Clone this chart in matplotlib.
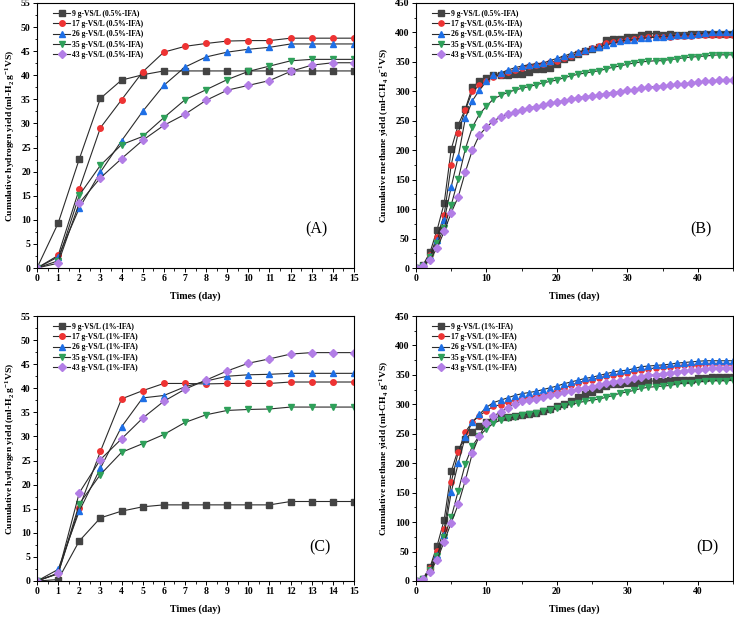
import numpy as np
import matplotlib
matplotlib.use("Agg")
import matplotlib.pyplot as plt
from matplotlib.ticker import MultipleLocator

plt.rcParams['font.family'] = ['Liberation Serif', 'DejaVu Serif']
plt.rcParams['mathtext.fontset'] = 'custom'
plt.rcParams['mathtext.rm'] = 'Liberation Serif'
plt.rcParams['mathtext.bf'] = 'Liberation Serif:bold'

LOADINGS = ["9", "17", "26", "35", "43"]
MARKERS = ["s", "o", "^", "v", "D"]
COLORS = ["#444444", "#ee3333", "#1e6fe6", "#2fa05a", "#b27ee6"]
LINE_COLOR = "#2b2b2b"

# hydrogen, days 0..15
H2_DAYS = list(range(16))
H2_05 = [
    [0, 9.3, 22.6, 35.2, 39.0, 40.1, 40.9, 40.9, 40.9, 40.9, 40.9, 40.9, 40.9, 40.9, 40.9, 40.9],
    [0, 2.6, 16.4, 29.1, 34.9, 40.7, 44.8, 46.0, 46.6, 47.1, 47.2, 47.2, 47.7, 47.7, 47.7, 47.7],
    [0, 2.3, 12.4, 19.9, 26.4, 32.5, 37.9, 41.7, 43.8, 44.8, 45.4, 45.8, 46.5, 46.5, 46.5, 46.5],
    [0, 1.5, 15.1, 21.3, 25.6, 27.3, 31.2, 34.9, 37.0, 39.1, 40.8, 41.9, 43.0, 43.3, 43.3, 43.3],
    [0, 1.0, 13.5, 18.7, 22.7, 26.5, 29.6, 31.9, 34.8, 36.9, 37.9, 38.9, 40.8, 42.1, 42.6, 42.6],
]
H2_1 = [
    [0, 0.3, 8.3, 13.1, 14.5, 15.4, 15.8, 15.8, 15.8, 15.8, 15.8, 15.8, 16.5, 16.5, 16.5, 16.5],
    [0, 1.6, 15.2, 26.9, 37.8, 39.5, 41.0, 41.0, 40.9, 41.0, 41.0, 41.0, 41.3, 41.3, 41.3, 41.3],
    [0, 2.4, 14.5, 23.4, 32.0, 38.0, 38.5, 40.3, 41.5, 42.5, 42.8, 42.9, 43.1, 43.1, 43.1, 43.1],
    [0, 1.5, 16.0, 22.1, 26.7, 28.5, 30.4, 32.9, 34.5, 35.4, 35.6, 35.7, 36.1, 36.1, 36.1, 36.1],
    [0, 1.6, 18.3, 25.2, 29.5, 33.8, 37.3, 39.8, 41.7, 43.6, 45.2, 46.1, 47.1, 47.4, 47.4, 47.4],
]

# methane, days 0..45
CH4_DAYS = list(range(46))
CH4_05 = [
    [0, 5, 27, 65, 110, 202, 243, 270, 307, 317, 322, 327, 327, 328, 329, 330, 332, 338, 338, 339,
     346, 355, 358, 363, 369, 372, 376, 388, 389, 389, 392, 393, 396, 398, 398, 396, 397, 396, 396,
     397, 397, 397, 397, 398, 398, 398],
    [0, 4, 22, 53, 90, 175, 230, 268, 300, 310, 318, 325, 327, 333, 336, 340, 343, 345, 346, 349,
     352, 357, 360, 365, 369, 374, 377, 382, 384, 386, 388, 389, 391, 392, 393, 393, 393, 394, 394,
     394, 395, 396, 396, 396, 396, 396],
    [0, 4, 20, 47, 81, 138, 189, 254, 284, 302, 317, 327, 331, 336, 340, 343, 345, 347, 348, 352,
     356, 360, 364, 367, 370, 373, 375, 379, 382, 385, 387, 388, 390, 391, 392, 393, 394, 395, 396,
     396, 397, 399, 400, 400, 400, 400],
    [0, 3, 18, 42, 68, 107, 151, 202, 239, 261, 275, 287, 293, 298, 302, 305, 308, 311, 314, 317,
     319, 323, 326, 329, 331, 333, 335, 338, 341, 343, 346, 348, 350, 351, 352, 352, 354, 355, 357,
     358, 359, 360, 361, 362, 362, 362],
    [0, 3, 14, 34, 62, 94, 121, 163, 200, 226, 239, 250, 256, 261, 265, 269, 272, 274, 277, 280,
     282, 284, 287, 289, 291, 292, 294, 296, 298, 299, 302, 303, 305, 307, 308, 309, 310, 312, 313,
     314, 316, 317, 318, 319, 319, 319],
]
CH4_1 = [
    [0, 4, 24, 60, 104, 186, 224, 241, 253, 263, 270, 276, 279, 279, 280, 282, 284, 286, 289, 292,
     297, 301, 305, 312, 317, 321, 326, 331, 334, 335, 336, 337, 338, 339, 340, 340, 341, 341, 341,
     342, 344, 345, 346, 346, 346, 346],
    [0, 4, 22, 51, 88, 168, 219, 253, 270, 281, 289, 297, 299, 304, 307, 310, 312, 314, 316, 320,
     323, 328, 332, 337, 340, 342, 345, 348, 350, 351, 354, 356, 358, 360, 362, 363, 364, 365, 366,
     367, 367, 368, 368, 369, 369, 369],
    [0, 4, 19, 44, 78, 151, 200, 245, 270, 283, 295, 303, 307, 311, 315, 318, 320, 322, 325, 328,
     331, 335, 338, 341, 344, 346, 349, 352, 355, 357, 358, 361, 364, 365, 366, 367, 368, 370, 371,
     372, 373, 374, 374, 374, 374, 374],
    [0, 3, 18, 42, 75, 108, 153, 199, 229, 247, 258, 268, 273, 276, 279, 282, 284, 286, 288, 291,
     294, 297, 300, 303, 305, 307, 309, 312, 315, 319, 321, 324, 327, 329, 330, 331, 332, 334, 336,
     337, 338, 339, 340, 340, 340, 341],
    [0, 3, 16, 36, 67, 99, 130, 171, 217, 247, 268, 280, 287, 294, 301, 305, 308, 309, 312, 316,
     318, 321, 323, 326, 328, 330, 333, 336, 338, 340, 342, 344, 347, 349, 350, 352, 353, 355, 357,
     358, 359, 360, 361, 362, 362, 362],
]

H2_LABEL = r"Cumulative hydrogen yield (ml-H$_\mathbf{2}$ g$^{\mathbf{-1}}$VS)"
CH4_LABEL = r"Cumulative methane yield (ml-CH$_\mathbf{4}$ g$^{\mathbf{-1}}$VS)"


def draw_panel(ax, days, series, ifa, ylabel, tag, tag_pos, xmax, ymax, xmaj, xmin, ymaj, ymin, ms):
    for i, values in enumerate(series):
        ax.plot(days, values, color=LINE_COLOR, lw=0.8, marker=MARKERS[i], ms=ms,
                mfc=COLORS[i], mec=COLORS[i], label=f"{LOADINGS[i]} g-VS/L ({ifa}-IFA)")
    ax.set_xlim(0, xmax)
    ax.set_ylim(0, ymax)
    ax.xaxis.set_major_locator(MultipleLocator(xmaj))
    ax.xaxis.set_minor_locator(MultipleLocator(xmin))
    ax.yaxis.set_major_locator(MultipleLocator(ymaj))
    ax.yaxis.set_minor_locator(MultipleLocator(ymin))
    ax.tick_params(which='major', length=3, width=0.7, labelsize=7, pad=1.5)
    ax.tick_params(which='minor', length=1.8, width=0.6)
    for lbl in ax.get_xticklabels() + ax.get_yticklabels():
        lbl.set_fontweight('bold')
    for sp in ax.spines.values():
        sp.set_linewidth(0.8)
    ax.set_xlabel("Times (day)", fontsize=7.2, fontweight='bold', labelpad=6)
    ax.set_ylabel(ylabel, fontsize=6.8, fontweight='bold', labelpad=3)
    ax.text(tag_pos[0], tag_pos[1], tag, transform=ax.transAxes, fontsize=11.5,
            ha='center', va='center')
    leg = ax.legend(loc='upper left', frameon=False, fontsize=5.5, handlelength=2.2,
                    handletextpad=0.3, labelspacing=0.3, borderaxespad=0.5,
                    bbox_to_anchor=(0.03, 1.0))
    for t in leg.get_texts():
        t.set_fontweight('bold')


fig = plt.figure(figsize=(7.34, 6.17), dpi=100)
W = 317 / 734
H = 265 / 617
ax_a = fig.add_axes([37 / 734, 1 - 268 / 617, W, H])
ax_b = fig.add_axes([416 / 734, 1 - 268 / 617, W, H])
ax_c = fig.add_axes([37 / 734, 1 - 581 / 617, W, H])
ax_d = fig.add_axes([416 / 734, 1 - 581 / 617, W, H])

draw_panel(ax_a, H2_DAYS, H2_05, "0.5%", H2_LABEL, "(A)", (0.88, 0.145), 15, 55, 1, 0.5, 5, 2.5, 4)
draw_panel(ax_b, CH4_DAYS, CH4_05, "0.5%", CH4_LABEL, "(B)", (0.90, 0.145), 45, 450, 10, 5, 50, 25, 3.8)
draw_panel(ax_c, H2_DAYS, H2_1, "1%", H2_LABEL, "(C)", (0.893, 0.125), 15, 55, 1, 0.5, 5, 2.5, 4)
draw_panel(ax_d, CH4_DAYS, CH4_1, "1%", CH4_LABEL, "(D)", (0.918, 0.125), 45, 450, 10, 5, 50, 25, 3.8)

fig.savefig("out.png", dpi=100)
